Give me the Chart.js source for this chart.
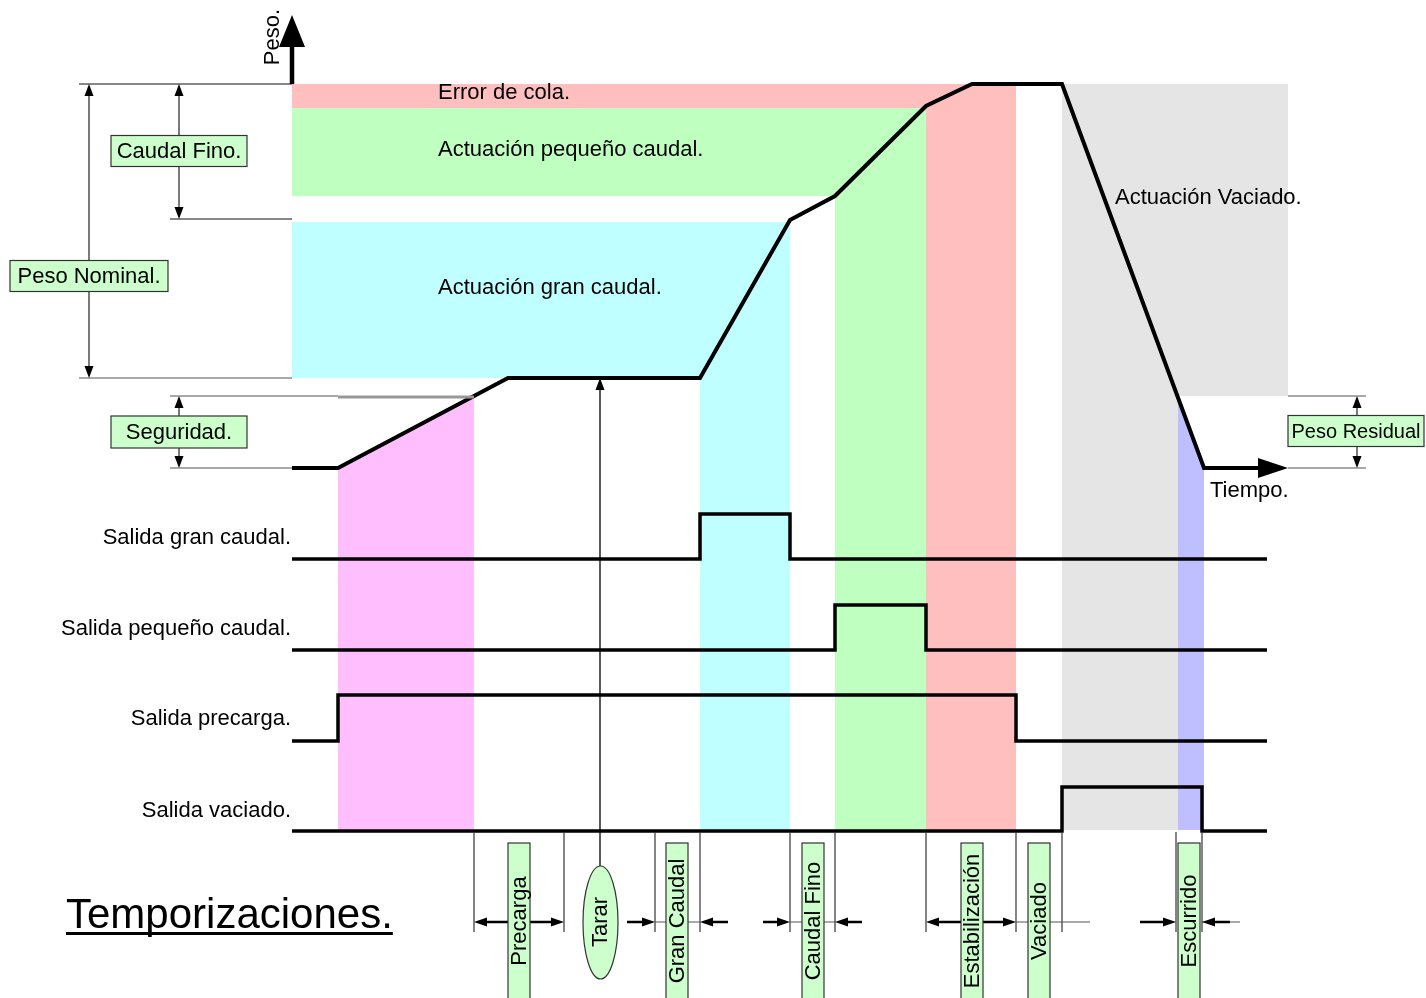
<!DOCTYPE html>
<html>
<head>
<meta charset="utf-8">
<title>Temporizaciones</title>
<script src="https://cdn.jsdelivr.net/npm/chart.js@4.4.1/dist/chart.umd.min.js"></script>
<style>
  body { margin: 0; background: #fff; }
  #diagram { display: block; }
</style>
</head>
<body>
<canvas id="diagram" width="1426" height="998"></canvas>
<script>
// All values are in drawing units (time → x, level → y, y grows downward)

// Weight curve
const weightTime  = [292, 338, 508, 700, 790, 835, 926, 972, 1062, 1204, 1262];
const weightLevel = [468, 468, 378, 378, 220, 196, 106, 84, 84, 468, 468];

// Parts of the curve shaded underneath (precarga / escurrido)
const precargaTime  = [338, 474];
const precargaLevel = [468, 396];
const escurridoTime  = [1178, 1204];
const escurridoLevel = [398, 468];
const shadeFloor = 830;

// Digital outputs
const signalNames = ['Salida gran caudal.', 'Salida pequeño caudal.', 'Salida precarga.', 'Salida vaciado.'];
const signalLow   = [559, 650, 741, 831];
const signalHigh  = [514, 605, 695, 787];
const signalOn    = [700, 835, 338, 1062];
const signalOff   = [790, 926, 1016, 1202];
const signalStart = 292;
const signalEnd   = 1267;

// Shaded zones (actuation bands + phase columns)
const zoneFrom   = [292, 926, 292, 835, 292, 700, 1062, 1062];
const zoneTo     = [926, 1016, 835, 926, 790, 790, 1288, 1178];
const zoneTop    = [84, 84, 108, 108, 222, 378, 84, 396];
const zoneBottom = [108, 830, 196, 830, 378, 830, 396, 830];
const zoneColors = ['#ffbfbf', '#ffbfbf', '#bfffbf', '#bfffbf', '#bfffff', '#bfffff', '#e5e5e5', '#e5e5e5'];

// Phase boundaries along the time axis
const phaseTicks = [474, 564, 655, 700, 790, 835, 926, 1016, 1062, 1176, 1202];
const phaseNames = ['Precarga', 'Gran Caudal', 'Caudal Fino', 'Estabilización', 'Vaciado', 'Escurrido'];
const phaseLabelAt = [519, 677, 813, 972, 1039, 1189];

const bandTexts = ['Error de cola.', 'Actuación pequeño caudal.', 'Actuación gran caudal.', 'Actuación Vaciado.', 'Tiempo.'];
const bandTextX = [438, 438, 438, 1115, 1210];
const bandTextY = [93, 150, 288, 198, 491];

const FONT = '"Liberation Sans", Arial, sans-serif';

function pts(xs, ys) {
    return xs.map((v, i) => ({ x: v, y: ys[i] }));
}

const datasets = [];

// zones as filled segments down to their bottom edge
zoneFrom.forEach((x0, i) => {
    datasets.push({
        data: pts([x0, zoneTo[i]], [zoneTop[i], zoneTop[i]]),
        fill: { value: zoneBottom[i] },
        backgroundColor: zoneColors[i],
        borderColor: 'rgba(0,0,0,0)',
        borderWidth: 0,
        pointRadius: 0,
        order: 2
    });
});

datasets.push({
    data: pts(precargaTime, precargaLevel),
    fill: { value: shadeFloor },
    backgroundColor: '#ffbfff',
    borderColor: 'rgba(0,0,0,0)',
    borderWidth: 0, pointRadius: 0, order: 2
});
datasets.push({
    data: pts(escurridoTime, escurridoLevel),
    fill: { value: shadeFloor },
    backgroundColor: '#bfbfff',
    borderColor: 'rgba(0,0,0,0)',
    borderWidth: 0, pointRadius: 0, order: 2
});

// output signals
signalNames.forEach((name, i) => {
    const xs = [signalStart, signalOn[i], signalOn[i], signalOff[i], signalOff[i], signalEnd];
    const ys = [signalLow[i], signalLow[i], signalHigh[i], signalHigh[i], signalLow[i], signalLow[i]];
    datasets.push({
        label: name,
        data: pts(xs, ys),
        borderColor: '#000',
        borderWidth: 3.5,
        borderJoinStyle: 'miter',
        pointRadius: 0,
        fill: false,
        order: 0
    });
});

// weight curve
datasets.push({
    label: 'Peso',
    data: pts(weightTime, weightLevel),
    borderColor: '#000',
    borderWidth: 4,
    borderJoinStyle: 'miter',
    pointRadius: 0,
    fill: false,
    order: 0
});

function arrowHead(ctx, tx, ty, fx, fy, len, half) {
    const a = Math.atan2(ty - fy, tx - fx);
    const bx = tx - len * Math.cos(a), by = ty - len * Math.sin(a);
    ctx.beginPath();
    ctx.moveTo(tx, ty);
    ctx.lineTo(bx + half * Math.sin(a), by - half * Math.cos(a));
    ctx.lineTo(bx - half * Math.sin(a), by + half * Math.cos(a));
    ctx.closePath();
    ctx.fill();
}

function arrow(ctx, fx, fy, tx, ty, width, len, half) {
    const a = Math.atan2(ty - fy, tx - fx);
    ctx.lineWidth = width;
    ctx.beginPath();
    ctx.moveTo(fx, fy);
    ctx.lineTo(tx - (len - 1) * Math.cos(a), ty - (len - 1) * Math.sin(a));
    ctx.stroke();
    arrowHead(ctx, tx, ty, fx, fy, len, half);
}

function line(ctx, x0, y0, x1, y1, width, color) {
    ctx.strokeStyle = color;
    ctx.lineWidth = width;
    ctx.beginPath();
    ctx.moveTo(x0, y0);
    ctx.lineTo(x1, y1);
    ctx.stroke();
}

function labelBox(ctx, text, cx, cy, w, h, size) {
    ctx.fillStyle = '#ccffcc';
    ctx.fillRect(cx - w / 2, cy - h / 2, w, h);
    ctx.strokeStyle = '#333';
    ctx.lineWidth = 1.2;
    ctx.strokeRect(cx - w / 2, cy - h / 2, w, h);
    ctx.fillStyle = '#000';
    ctx.font = (size || 22) + 'px ' + FONT;
    ctx.textAlign = 'center';
    ctx.textBaseline = 'middle';
    ctx.fillText(text, cx, cy + 1);
}

const overlay = {
    id: 'overlay',
    afterDatasetsDraw(chart) {
        const { ctx } = chart;
        const sx = chart.scales.x, sy = chart.scales.y;
        const X = v => sx.getPixelForValue(v), Y = v => sy.getPixelForValue(v);
        ctx.save();
        ctx.lineCap = 'butt';

        // guide lines of the weight levels
        line(ctx, X(79), Y(84), X(292), Y(84), 1.2, '#111');
        line(ctx, X(170), Y(219), X(292), Y(219), 1.2, '#111');
        line(ctx, X(79), Y(378), X(292), Y(378), 1.2, '#555');
        line(ctx, X(170), Y(396), X(338), Y(396), 1.2, '#555');
        line(ctx, X(338), Y(397), X(474), Y(397), 3, '#999');
        line(ctx, X(170), Y(468), X(292), Y(468), 1.2, '#555');
        line(ctx, X(1288), Y(396), X(1366), Y(396), 1.2, '#555');
        line(ctx, X(1288), Y(468), X(1366), Y(468), 1.2, '#555');

        // axes
        ctx.fillStyle = '#000';
        ctx.strokeStyle = '#000';
        arrow(ctx, X(292), Y(84), X(292), Y(15), 4.5, 32, 13);
        arrow(ctx, X(1258), Y(468), X(1288), Y(468), 4, 30, 10);

        // dimension arrows
        ctx.strokeStyle = '#333';
        ctx.fillStyle = '#000';
        [[89, 84, 378], [179, 84, 219], [179, 396, 468], [1357, 396, 468]].forEach(([x, a, b]) => {
            const m = (a + b) / 2;
            arrow(ctx, X(x), Y(m), X(x), Y(a), 1.3, 12, 4.5);
            arrow(ctx, X(x), Y(m), X(x), Y(b), 1.3, 12, 4.5);
        });
        labelBox(ctx, 'Peso Nominal.', X(89), Y(276), 158, 31);
        labelBox(ctx, 'Caudal Fino.', X(179), Y(151), 136, 31);
        labelBox(ctx, 'Seguridad.', X(179), Y(432), 136, 32);
        labelBox(ctx, 'Peso Residual', X(1356), Y(431), 136, 31, 20);

        // tarar arrow
        ctx.strokeStyle = '#000';
        arrow(ctx, X(600), Y(866), X(600), Y(378), 1.3, 12, 4.5);

        // phase boundary ticks
        phaseTicks.forEach(t => line(ctx, X(t), Y(832), X(t), Y(932), 1.2, '#333'));

        // thin connectors
        [[655, 700], [790, 835], [1016, 1090], [1202, 1240]].forEach(([a, b]) =>
            line(ctx, X(a), Y(922), X(b), Y(922), 1.2, '#555'));

        // timing arrows
        ctx.strokeStyle = '#000';
        ctx.fillStyle = '#000';
        [[519, 474], [519, 564], [627, 655], [728, 700], [763, 790], [862, 835],
         [971, 926], [971, 1016], [1140, 1176], [1230, 1202]].forEach(([a, b]) =>
            arrow(ctx, X(a), Y(922), X(b), Y(922), 2.5, 13, 4.5));

        // vertical phase labels
        ctx.font = '22px ' + FONT;
        phaseNames.forEach((name, i) => {
            const cx = X(phaseLabelAt[i]);
            ctx.fillStyle = '#ccffcc';
            ctx.fillRect(cx - 11, Y(843), 22, 160);
            ctx.strokeStyle = '#333';
            ctx.lineWidth = 1.2;
            ctx.strokeRect(cx - 11, Y(843), 22, 160);
            ctx.save();
            ctx.translate(cx + 1, Y(921));
            ctx.rotate(-Math.PI / 2);
            ctx.fillStyle = '#000';
            ctx.textAlign = 'center';
            ctx.textBaseline = 'middle';
            ctx.fillText(name, 0, 0);
            ctx.restore();
        });

        // tarar ellipse
        ctx.beginPath();
        ctx.ellipse(X(600.5), Y(922.5), 17.5, 56.5, 0, 0, Math.PI * 2);
        ctx.fillStyle = '#ccffcc';
        ctx.fill();
        ctx.strokeStyle = '#333';
        ctx.lineWidth = 1.2;
        ctx.stroke();
        ctx.save();
        ctx.translate(X(601), Y(922));
        ctx.rotate(-Math.PI / 2);
        ctx.fillStyle = '#000';
        ctx.textAlign = 'center';
        ctx.textBaseline = 'middle';
        ctx.fillText('Tarar', 0, 0);
        ctx.restore();

        // texts
        ctx.fillStyle = '#000';
        ctx.font = '22px ' + FONT;
        ctx.textBaseline = 'middle';
        ctx.textAlign = 'left';
        bandTexts.forEach((t, i) => ctx.fillText(t, X(bandTextX[i]), Y(bandTextY[i])));
        ctx.textAlign = 'right';
        signalNames.forEach((t, i) => ctx.fillText(t, X(291), Y(signalHigh[i] + 24)));

        // axis name
        ctx.save();
        ctx.translate(X(273), Y(37));
        ctx.rotate(-Math.PI / 2);
        ctx.textAlign = 'center';
        ctx.fillText('Peso.', 0, 0);
        ctx.restore();

        // title
        ctx.font = '42px ' + FONT;
        ctx.textAlign = 'left';
        ctx.textBaseline = 'alphabetic';
        ctx.fillText('Temporizaciones.', X(66), Y(928));
        const w = ctx.measureText('Temporizaciones.').width;
        ctx.fillRect(X(66), Y(932), w, 3);

        ctx.restore();
    }
};

new Chart(document.getElementById('diagram'), {
    type: 'line',
    data: { datasets },
    options: {
        responsive: false,
        animation: false,
        parsing: false,
        layout: { padding: 0 },
        elements: { line: { tension: 0 } },
        scales: {
            x: { type: 'linear', min: 0, max: 1426, display: false },
            y: { type: 'linear', min: 0, max: 998, reverse: true, display: false }
        },
        plugins: {
            legend: { display: false },
            tooltip: { enabled: false }
        }
    },
    plugins: [overlay]
});
</script>
</body>
</html>
